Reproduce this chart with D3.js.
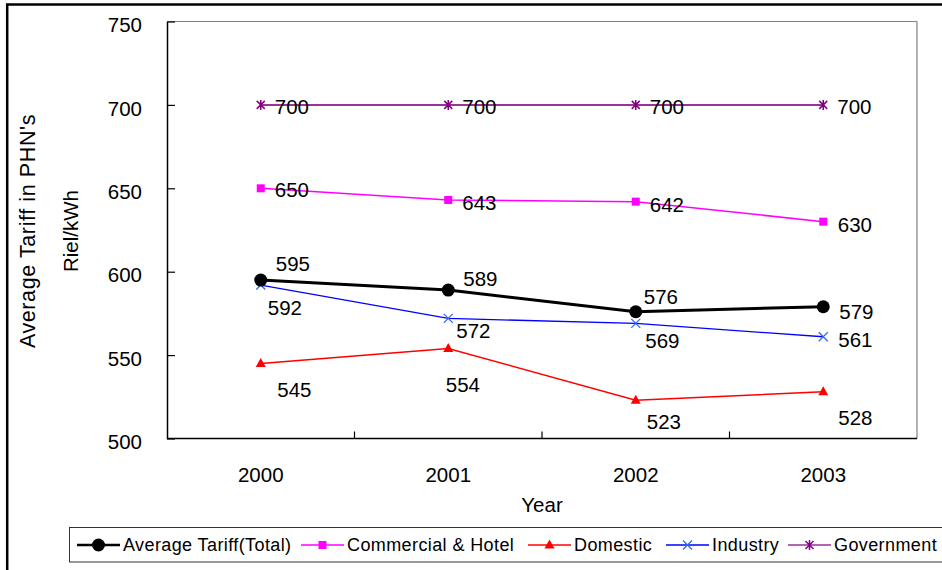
<!DOCTYPE html>
<html>
<head>
<meta charset="utf-8">
<script src="https://cdn.jsdelivr.net/npm/d3@7/dist/d3.min.js"></script>
<style>
  html, body { margin: 0; padding: 0; background: #fff; }
  svg { display: block; font-family: "Liberation Sans", Arial, sans-serif; }
</style>
</head>
<body>
<svg id="chart" width="942" height="570"></svg>
<script>
// Average electricity tariff in Phnom Penh by customer class (Riel/kWh)
const years = ["2000", "2001", "2002", "2003"];
const totalTariff = [595, 589, 576, 579];
const commercialHotel = [650, 643, 642, 630];
const domestic = [545, 554, 523, 528];
const industry = [592, 572, 569, 561];
const government = [700, 700, 700, 700];
const yTicks = [500, 550, 600, 650, 700, 750];

// label nudges (dx, dy from the point, in px) so the numbers do not collide
const labelNudge = {
  total:      [[15, -9], [15, -4], [8, -8], [16, 12]],
  commercial: [[14, 9], [14, 10], [14, 10.5], [14.5, 10]],
  domestic:   [[16.5, 34], [-2.5, 44], [11, 29], [15, 33]],
  industry:   [[7, 30], [8, 19.5], [9.5, 25], [15, 10.5]],
  government: [[14, 9], [14, 9], [14, 9], [14, 9]]
};

const series = [
  { key: "total", name: "Average Tariff(Total)", values: totalTariff,
    line: "#000000", marker: "#000000", width: 3, shape: "circle" },
  { key: "commercial", name: "Commercial & Hotel", values: commercialHotel,
    line: "#FF00FF", marker: "#FF00FF", width: 1.5, shape: "square" },
  { key: "domestic", name: "Domestic", values: domestic,
    line: "#FF0000", marker: "#FF0000", width: 1.5, shape: "triangle" },
  { key: "industry", name: "Industry", values: industry,
    line: "#0000FF", marker: "#3366FF", width: 1.3, shape: "cross" },
  { key: "government", name: "Government", values: government,
    line: "#993399", marker: "#800080", width: 2, shape: "asterisk" }
];

const svg = d3.select("#chart");
const plot = { left: 167, right: 917, top: 21.5, bottom: 438.5 };
const fontMain = 20.5;

// outer chart border (runs off the right and bottom edges)
svg.append("rect")
  .attr("x", 7.2).attr("y", 4.5)
  .attr("width", 1000).attr("height", 700)
  .attr("fill", "none").attr("stroke", "#000").attr("stroke-width", 2.5);

const x = d3.scaleBand().domain(years).range([plot.left, plot.right]).paddingInner(0).paddingOuter(0);
const xc = d => x(d) + x.bandwidth() / 2;
const y = d3.scaleLinear().domain([500, 750]).range([plot.bottom, plot.top]);

// plot frame: top/right grey, left/bottom black
svg.append("line").attr("x1", plot.left).attr("x2", plot.right)
  .attr("y1", plot.top).attr("y2", plot.top).attr("stroke", "#808080").attr("stroke-width", 1.2);
svg.append("line").attr("x1", plot.right).attr("x2", plot.right)
  .attr("y1", plot.top).attr("y2", plot.bottom).attr("stroke", "#808080").attr("stroke-width", 1.2);

// y axis with inward ticks
const yAxis = d3.axisLeft(y).tickValues(yTicks).tickSizeInner(-8).tickSizeOuter(0).tickPadding(0);
const gy = svg.append("g").attr("transform", `translate(${plot.left},0)`).call(yAxis);
gy.select(".domain").attr("stroke", "#000").attr("stroke-width", 1.5);
gy.selectAll(".tick line").attr("stroke", "#000").attr("stroke-width", 1.2);
gy.selectAll(".tick text")
  .attr("x", -25).attr("dy", "0.5em")
  .attr("font-size", fontMain).attr("fill", "#000")
  .attr("font-family", "Liberation Sans, Arial, sans-serif");

// x axis: ticks between categories, pointing up into the plot
const gx = svg.append("g").attr("transform", `translate(0,${plot.bottom})`);
gx.append("line").attr("x1", plot.left).attr("x2", plot.right)
  .attr("stroke", "#000").attr("stroke-width", 1.5);
gx.selectAll("line.tick").data(years.slice(1)).join("line")
  .attr("class", "tick")
  .attr("x1", d => x(d)).attr("x2", d => x(d))
  .attr("y1", 0).attr("y2", -7)
  .attr("stroke", "#000").attr("stroke-width", 1.2);
gx.selectAll("text").data(years).join("text")
  .attr("x", d => xc(d)).attr("y", 43.5)
  .attr("text-anchor", "middle").attr("font-size", fontMain)
  .text(d => d);

// axis titles
svg.append("text").attr("x", plot.left + (plot.right - plot.left) / 2).attr("y", 511.5)
  .attr("text-anchor", "middle").attr("font-size", fontMain).text("Year");
const midY = (plot.top + plot.bottom) / 2 + 1;
svg.append("text").attr("transform", `translate(35,${midY}) rotate(-90)`)
  .attr("text-anchor", "middle").attr("font-size", 21.5).attr("letter-spacing", 0.6)
  .text("Average Tariff in PHN's");
svg.append("text").attr("transform", `translate(78,${midY}) rotate(-90)`)
  .attr("text-anchor", "middle").attr("font-size", fontMain)
  .text("Riel/kWh");

// marker shapes
function drawMarker(g, s, cx, cy) {
  if (s.shape === "circle") {
    g.append("circle").attr("cx", cx).attr("cy", cy).attr("r", 6.5).attr("fill", s.marker);
  } else if (s.shape === "square") {
    g.append("rect").attr("x", cx - 4).attr("y", cy - 4).attr("width", 8).attr("height", 8).attr("fill", s.marker);
  } else if (s.shape === "triangle") {
    g.append("path").attr("d", `M${cx},${cy - 5.5}L${cx + 5},${cy + 3.5}L${cx - 5},${cy + 3.5}Z`).attr("fill", s.marker);
  } else if (s.shape === "cross") {
    g.append("path").attr("d", `M${cx - 4.5},${cy - 4.5}L${cx + 4.5},${cy + 4.5}M${cx - 4.5},${cy + 4.5}L${cx + 4.5},${cy - 4.5}`)
      .attr("stroke", s.marker).attr("stroke-width", 1.3).attr("fill", "none");
  } else if (s.shape === "asterisk") {
    g.append("path").attr("d",
      `M${cx - 4},${cy - 4}L${cx + 4},${cy + 4}M${cx - 4},${cy + 4}L${cx + 4},${cy - 4}M${cx},${cy - 5}L${cx},${cy + 5}`)
      .attr("stroke", s.marker).attr("stroke-width", 1.5).attr("fill", "none");
  }
}

const line = d3.line().x(d => xc(d.year)).y(d => y(d.value));

// draw from back to front so the total line stays on top
const drawOrder = ["government", "commercial", "domestic", "industry", "total"];
drawOrder.forEach(k => {
  const s = series.find(t => t.key === k);
  const pts = years.map((yr, i) => ({ year: yr, value: s.values[i] }));
  const g = svg.append("g");
  g.append("path").datum(pts).attr("d", line)
    .attr("fill", "none").attr("stroke", s.line).attr("stroke-width", s.width);
  pts.forEach(p => drawMarker(g, s, xc(p.year), y(p.value)));
});

// value labels
series.forEach(s => {
  years.forEach((yr, i) => {
    const [dx, dy] = labelNudge[s.key][i];
    svg.append("text")
      .attr("x", xc(yr) + dx).attr("y", y(s.values[i]) + dy)
      .attr("font-size", fontMain).attr("fill", "#000")
      .text(s.values[i]);
  });
});

// legend
const leg = svg.append("g");
leg.append("rect").attr("x", 69.5).attr("y", 527.5).attr("width", 900).attr("height", 34.5)
  .attr("fill", "#fff").attr("stroke", "#333").attr("stroke-width", 1);
const legendX = [77, 301, 528, 666, 788];
series.forEach((s, i) => {
  const lx = legendX[i], ly = 545;
  leg.append("line").attr("x1", lx).attr("x2", lx + 43).attr("y1", ly).attr("y2", ly)
    .attr("stroke", s.line).attr("stroke-width", s.key === "total" ? 2.5 : 1.5);
  drawMarker(leg, s, lx + 21.5, ly);
  leg.append("text").attr("x", lx + 46).attr("y", 551)
    .attr("font-size", 18).attr("letter-spacing", 0.4).text(s.name);
});
</script>
</body>
</html>
